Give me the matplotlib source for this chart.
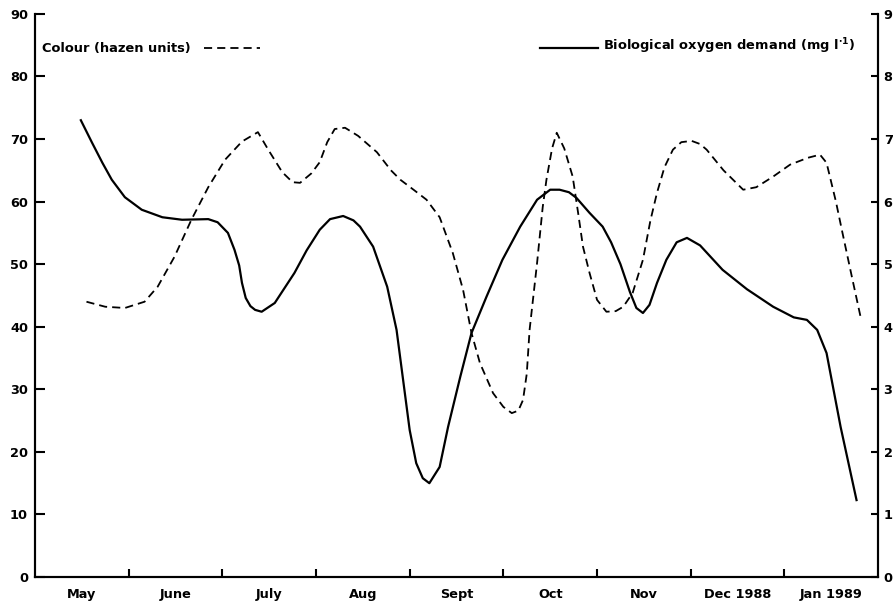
import numpy as np
import matplotlib.pyplot as plt

plt.rcParams['font.family'] = ['DejaVu Sans']
plt.rcParams['font.weight'] = 'bold'

# month labels, centred in each month (x in months from start of May)
months = ['May', 'June', 'July', 'Aug', 'Sept', 'Oct', 'Nov', 'Dec 1988', 'Jan 1989']

# colour (hazen units), left axis
colour_x = [0.55, 0.75, 0.96, 1.17, 1.31, 1.49, 1.67, 1.85, 2.03, 2.21, 2.38, 2.49,
            2.64, 2.75, 2.83, 2.95, 3.04, 3.12, 3.20, 3.31, 3.45, 3.65, 3.80, 3.90,
            4.05, 4.18, 4.32, 4.46, 4.57, 4.66, 4.75, 4.89, 5.00, 5.09, 5.16, 5.21,
            5.25, 5.28, 5.36, 5.42, 5.46, 5.52, 5.57, 5.65, 5.74, 5.80, 5.85, 5.92,
            6.00, 6.10, 6.20, 6.28, 6.38, 6.49, 6.57, 6.64, 6.72, 6.81, 6.90, 7.01,
            7.10, 7.17, 7.35, 7.56, 7.70, 7.88, 8.06, 8.25, 8.38, 8.45, 8.55, 8.62,
            8.72, 8.82]
colour_y = [44.0, 43.2, 43.0, 44.0, 46.4, 51.2, 57.1, 62.3, 66.7, 69.6, 71.1, 68.3,
            64.7, 63.1, 63.0, 64.5, 66.3, 69.5, 71.6, 71.8, 70.5, 67.9, 65.0, 63.5,
            61.8, 60.3, 57.5, 51.8, 45.9, 39.0, 34.2, 29.4, 27.2, 26.2, 26.6, 28.3,
            32.5, 39.5, 50.2, 59.1, 63.5, 68.5, 71.0, 68.5, 64.0, 58.0, 52.8, 48.6,
            44.3, 42.4, 42.5, 43.2, 45.4, 50.7, 57.0, 61.4, 65.5, 68.3, 69.5, 69.7,
            69.2, 68.3, 65.0, 61.9, 62.3, 64.0, 65.9, 67.0, 67.5, 66.2, 60.0, 55.0,
            48.0, 41.1]

# biological oxygen demand (mg l-1), right axis
bod_x = [0.49, 0.61, 0.72, 0.82, 0.96, 1.14, 1.36, 1.57, 1.85, 1.95, 2.06, 2.13,
         2.18, 2.21, 2.25, 2.30, 2.35, 2.42, 2.56, 2.70, 2.77, 2.90, 3.04, 3.15,
         3.29, 3.40, 3.47, 3.61, 3.76, 3.86, 3.93, 4.00, 4.07, 4.14, 4.21, 4.32,
         4.41, 4.54, 4.66, 4.82, 4.99, 5.18, 5.36, 5.50, 5.60, 5.70, 5.78, 5.92,
         6.06, 6.15, 6.25, 6.35, 6.42, 6.49, 6.56, 6.64, 6.74, 6.85, 6.96, 7.10,
         7.34, 7.60, 7.88, 8.10, 8.24, 8.35, 8.45, 8.60, 8.77]
bod_y = [7.30, 6.94, 6.62, 6.35, 6.07, 5.87, 5.75, 5.71, 5.72, 5.67, 5.50, 5.23,
         4.98, 4.70, 4.46, 4.33, 4.27, 4.24, 4.38, 4.70, 4.86, 5.22, 5.55, 5.72,
         5.77, 5.70, 5.60, 5.28, 4.64, 3.95, 3.15, 2.35, 1.82, 1.58, 1.50, 1.76,
         2.40, 3.20, 3.90, 4.48, 5.07, 5.60, 6.03, 6.19, 6.19, 6.15, 6.06, 5.82,
         5.60, 5.35, 5.00, 4.56, 4.30, 4.22, 4.35, 4.70, 5.07, 5.35, 5.42, 5.30,
         4.91, 4.60, 4.32, 4.15, 4.11, 3.95, 3.58, 2.40, 1.23]

fig = plt.figure(figsize=(8.96, 6.03), dpi=100)
ax = fig.add_axes([0.039, 0.043, 0.941, 0.934])
ax2 = ax.twinx()

dash = (0, (4.5, 2.8))
ax.plot(colour_x, colour_y, color='black', linestyle=dash, linewidth=1.3)
ax2.plot(bod_x, bod_y, color='black', linestyle='-', linewidth=1.6)

ax.set_xlim(0, 9)
ax.set_ylim(0, 90)
ax2.set_ylim(0, 9)

ax.set_yticks(np.arange(0, 91, 10))
ax2.set_yticks(np.arange(0, 10, 1))
ax.set_xticks(np.arange(1, 9))
ax.set_xticklabels([])
ax.set_xticks(np.arange(0.5, 9, 1), minor=True)
ax.set_xticklabels(months, minor=True)
ax.tick_params(axis='x', which='minor', length=0, pad=8, labelsize=9.3)
ax.tick_params(axis='x', which='major', direction='in', length=6, width=1.5)
ax.tick_params(axis='y', direction='in', length=7, width=1.5, labelsize=9.3, pad=5)
ax2.tick_params(axis='y', direction='in', length=5, width=1.5, labelsize=9.3, pad=4)

for a in (ax, ax2):
    a.spines['top'].set_visible(False)
    for s in ('left', 'right', 'bottom'):
        a.spines[s].set_linewidth(1.5)

# legend texts drawn as labels in the plot
ax.text(0.08, 84.5, 'Colour (hazen units)', fontsize=9.4, fontweight='bold', va='center')
ax.plot([1.80, 2.40], [84.5, 84.5], color='black', linestyle=dash, linewidth=1.3)
ax.plot([5.39, 6.01], [84.5, 84.5], color='black', linestyle='-', linewidth=1.6)
ax.text(6.06, 84.8, 'Biological oxygen demand (mg l$^{\\cdot 1}$)', fontsize=9.4,
        fontweight='bold', va='center')

fig.savefig('out.png', dpi=100)
